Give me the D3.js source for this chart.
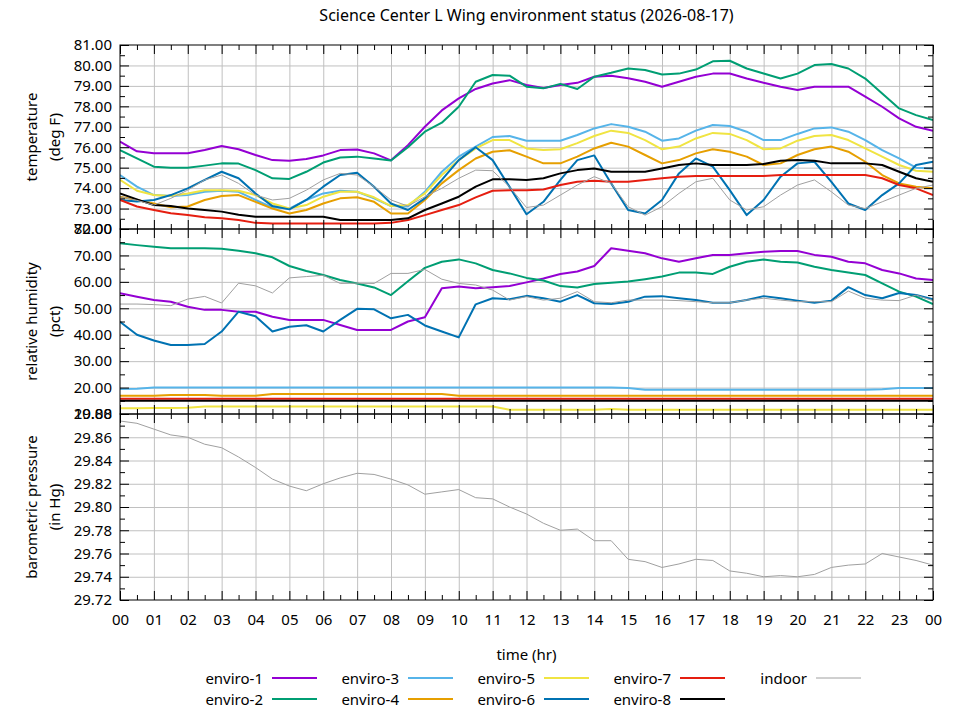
<!DOCTYPE html>
<html>
<head>
<meta charset="utf-8">
<script src="https://cdn.jsdelivr.net/npm/d3@7"></script>
<style>
  body { margin: 0; background: #fff; }
  text { font-family: "Noto Sans", sans-serif; fill: #000; }
</style>
</head>
<body>
<svg id="chart" width="960" height="720"></svg>
<script>
// half-hour sample times (hr)
const hours = [0, 0.5, 1, 1.5, 2, 2.5, 3, 3.5, 4, 4.5, 5, 5.5, 6, 6.5, 7, 7.5, 8, 8.5, 9, 9.5,
  10, 10.5, 11, 11.5, 12, 12.5, 13, 13.5, 14, 14.5, 15, 15.5, 16, 16.5, 17, 17.5, 18, 18.5, 19, 19.5,
  20, 20.5, 21, 21.5, 22, 22.5, 23, 23.5, 24]

// temperature (deg F)
const tempE1 = [76.27, 75.8, 75.7, 75.7, 75.7, 75.86, 76.06, 75.9, 75.62, 75.37, 75.34, 75.42, 75.6, 75.86, 75.89, 75.7, 75.36, 76.1, 77.0, 77.8,
  78.39, 78.85, 79.12, 79.28, 79.04, 78.9, 79.04, 79.15, 79.45, 79.5, 79.37, 79.2, 78.96, 79.2, 79.45, 79.6, 79.61, 79.36, 79.15, 78.96,
  78.8, 78.96, 78.96, 78.96, 78.47, 77.98, 77.41, 77.0, 76.8]
const tempE2 = [75.86, 75.45, 75.05, 75.0, 75.0, 75.1, 75.21, 75.2, 74.88, 74.48, 74.45, 74.8, 75.25, 75.5, 75.54, 75.45, 75.35, 76.0, 76.76, 77.2,
  77.98, 79.2, 79.53, 79.5, 78.96, 78.88, 79.1, 78.85, 79.45, 79.64, 79.85, 79.78, 79.56, 79.6, 79.8, 80.2, 80.23, 79.85, 79.61, 79.36,
  79.6, 80.02, 80.07, 79.85, 79.36, 78.63, 77.9, 77.57, 77.33]
const tempE3 = [74.64, 74.07, 73.66, 73.62, 73.66, 73.82, 73.87, 73.82, 73.42, 73.06, 73.0, 73.42, 73.74, 73.87, 73.82, 73.5, 73.12, 73.1, 73.82, 74.8,
  75.54, 76.03, 76.5, 76.55, 76.32, 76.32, 76.32, 76.6, 76.92, 77.13, 77.0, 76.76, 76.32, 76.43, 76.81, 77.09, 77.04, 76.76, 76.35, 76.35,
  76.65, 76.92, 76.97, 76.76, 76.35, 75.86, 75.45, 75.0, 74.96]
const tempE4 = [73.58, 73.42, 73.25, 73.06, 73.1, 73.42, 73.61, 73.66, 73.33, 73.0, 72.76, 72.93, 73.25, 73.5, 73.55, 73.33, 72.76, 72.76, 73.42, 74.23,
  74.88, 75.45, 75.78, 75.85, 75.54, 75.21, 75.21, 75.54, 75.94, 76.22, 76.03, 75.62, 75.21, 75.37, 75.7, 75.9, 75.78, 75.54, 75.13, 75.21,
  75.62, 75.9, 76.03, 75.78, 75.29, 74.64, 74.23, 74.07, 73.99]
const tempE5 = [74.4, 73.87, 73.66, 73.62, 73.74, 73.9, 73.9, 73.87, 73.66, 73.25, 73.0, 73.17, 73.58, 73.82, 73.82, 73.55, 73.12, 73.17, 73.74, 74.64,
  75.37, 75.94, 76.35, 76.35, 75.94, 75.86, 75.9, 76.2, 76.55, 76.81, 76.7, 76.35, 75.9, 76.03, 76.43, 76.7, 76.65, 76.35, 75.9, 75.94,
  76.32, 76.55, 76.6, 76.35, 75.94, 75.54, 75.13, 74.85, 74.8]
const tempE6 = [73.42, 73.35, 73.42, 73.66, 73.99, 74.4, 74.8, 74.48, 73.74, 73.12, 72.96, 73.42, 74.07, 74.64, 74.75, 74.07, 73.25, 72.93, 73.5, 74.4,
  75.37, 76.0, 75.37, 74.06, 72.72, 73.33, 74.4, 75.37, 75.6, 74.23, 72.93, 72.76, 73.42, 74.72, 75.45, 75.05, 73.9, 72.68, 73.42, 74.56,
  75.21, 75.29, 74.31, 73.25, 72.93, 73.66, 74.23, 75.13, 75.29]
const tempE7 = [73.42, 73.1, 72.93, 72.77, 72.68, 72.57, 72.52, 72.44, 72.3, 72.27, 72.27, 72.27, 72.27, 72.27, 72.27, 72.27, 72.3, 72.44, 72.68, 72.93,
  73.17, 73.55, 73.87, 73.9, 73.9, 73.93, 74.15, 74.31, 74.36, 74.31, 74.31, 74.4, 74.48, 74.56, 74.59, 74.59, 74.59, 74.59, 74.59, 74.64,
  74.64, 74.64, 74.64, 74.64, 74.64, 74.48, 74.15, 73.99, 73.66]
const tempE8 = [73.74, 73.45, 73.17, 73.12, 73.0, 72.93, 72.85, 72.7, 72.6, 72.6, 72.6, 72.6, 72.6, 72.44, 72.44, 72.44, 72.44, 72.52, 72.93, 73.25,
  73.58, 74.07, 74.43, 74.43, 74.4, 74.48, 74.72, 74.88, 74.96, 74.8, 74.8, 74.8, 74.96, 75.13, 75.21, 75.13, 75.13, 75.13, 75.18, 75.34,
  75.37, 75.34, 75.21, 75.21, 75.21, 75.13, 74.8, 74.48, 74.31]
const tempIndoor = [73.58, 73.4, 73.17, 73.5, 73.9, 74.4, 74.64, 74.23, 73.66, 73.42, 73.5, 73.9, 74.4, 74.72, 74.64, 74.07, 73.42, 73.12, 73.58, 73.99,
  74.48, 74.88, 74.85, 74.06, 73.05, 73.17, 73.66, 74.15, 74.56, 74.23, 73.09, 72.68, 73.09, 73.74, 74.31, 74.48, 73.42, 72.93, 73.09, 73.66,
  74.15, 74.4, 73.82, 73.17, 73.0, 73.33, 73.66, 73.99, 74.15]

// relative humidity (pct)
const humE1 = [55.7, 54.4, 53.1, 52.5, 50.6, 49.4, 49.4, 48.7, 48.7, 46.8, 45.6, 45.6, 45.6, 43.7, 41.8, 41.8, 41.8, 45.0, 46.6, 57.6,
  58.2, 57.6, 58.0, 58.4, 59.8, 61.3, 63.0, 63.9, 66.0, 72.7, 71.8, 70.8, 68.9, 67.6, 68.9, 70.2, 70.2, 70.8, 71.4, 71.7,
  71.7, 70.2, 69.5, 67.6, 67.0, 64.5, 63.2, 61.3, 60.7]
const humE2 = [74.6, 73.9, 73.3, 72.7, 72.7, 72.7, 72.5, 71.8, 70.8, 69.3, 66.0, 64.1, 62.6, 60.7, 59.4, 57.9, 55.0, 60.2, 65.3, 67.6,
  68.5, 67.0, 64.5, 63.2, 61.5, 60.5, 58.4, 57.9, 59.2, 59.7, 60.1, 61.0, 62.0, 63.5, 63.5, 63.0, 65.7, 67.6, 68.5, 67.6,
  67.3, 65.7, 64.5, 63.5, 62.6, 59.4, 56.3, 54.4, 51.6]
const humE3 = [19.5, 19.6, 20.0, 20.0, 20.0, 20.0, 20.0, 20.0, 20.0, 20.0, 20.0, 20.0, 20.0, 20.0, 20.0, 20.0, 20.0, 20.0, 20.0, 20.0,
  20.0, 20.0, 20.0, 20.0, 20.0, 20.0, 20.0, 20.0, 20.0, 20.0, 19.8, 19.2, 19.2, 19.2, 19.2, 19.2, 19.2, 19.2, 19.2, 19.2,
  19.2, 19.2, 19.2, 19.2, 19.2, 19.4, 19.8, 19.8, 19.8]
const humE4 = [16.9, 16.9, 16.9, 17.2, 17.2, 17.2, 16.9, 16.9, 16.9, 17.6, 17.6, 17.6, 17.6, 17.6, 17.6, 17.6, 17.6, 17.6, 17.6, 17.6,
  16.9, 16.9, 16.9, 16.9, 16.9, 16.9, 16.9, 16.9, 16.9, 16.9, 16.9, 16.9, 16.9, 16.9, 16.9, 16.9, 16.9, 16.9, 16.9, 16.9,
  16.9, 16.9, 16.9, 16.9, 16.9, 16.9, 16.9, 16.9, 16.9]
const humE5 = [12.2, 12.2, 12.3, 12.3, 12.4, 12.8, 12.8, 12.8, 12.8, 12.8, 12.8, 12.8, 12.8, 12.8, 12.8, 12.8, 12.8, 12.8, 12.8, 12.8,
  12.8, 12.8, 12.8, 11.6, 11.6, 11.6, 11.6, 11.6, 11.6, 11.9, 11.6, 11.6, 11.6, 11.6, 11.6, 11.6, 11.6, 11.6, 11.6, 11.6,
  11.6, 11.6, 11.6, 11.6, 11.6, 11.6, 11.6, 11.6, 11.6]
const humE6 = [44.9, 40.0, 37.8, 36.1, 36.1, 36.5, 41.2, 48.7, 47.0, 41.2, 43.0, 43.6, 41.2, 45.6, 49.8, 49.6, 46.2, 47.5, 43.5, 41.2,
  39.0, 51.5, 53.8, 53.4, 54.7, 53.8, 52.5, 55.0, 51.9, 51.6, 52.5, 54.4, 54.6, 53.8, 53.1, 52.1, 52.1, 53.1, 54.6, 53.8,
  52.9, 52.1, 52.9, 58.0, 55.0, 53.8, 55.8, 55.0, 53.4]
const humE7 = [15.8, 15.8, 15.8, 15.8, 15.8, 15.8, 15.8, 15.8, 15.8, 15.8, 15.8, 15.8, 15.8, 15.8, 15.8, 15.8, 15.8, 15.8, 15.8, 15.8,
  15.8, 15.8, 15.8, 15.8, 15.8, 15.8, 15.8, 15.8, 15.8, 15.8, 15.8, 15.8, 15.8, 15.8, 15.8, 15.8, 15.8, 15.8, 15.8, 15.8,
  15.8, 15.8, 15.8, 15.8, 15.8, 15.8, 15.8, 15.8, 15.8]
const humE8 = [15.0, 15.0, 15.0, 15.0, 15.0, 15.0, 15.0, 15.0, 15.0, 15.0, 15.0, 15.0, 15.0, 15.0, 15.0, 15.0, 15.0, 15.0, 15.0, 15.0,
  15.0, 15.0, 15.0, 15.0, 15.0, 15.0, 15.0, 15.0, 15.0, 15.0, 15.0, 15.0, 15.0, 15.0, 15.0, 15.0, 15.0, 15.0, 15.0, 15.0,
  15.0, 15.0, 15.0, 15.0, 15.0, 15.0, 15.0, 15.0, 15.0]
const humIndoor = [51.6, 51.6, 51.4, 51.0, 53.5, 54.5, 52.0, 59.5, 58.5, 55.8, 61.5, 62.0, 62.5, 59.4, 59.5, 59.4, 63.2, 63.2, 64.7, 61.0,
  59.4, 58.8, 56.9, 53.1, 54.4, 53.1, 53.8, 56.3, 52.5, 52.1, 53.1, 53.1, 53.1, 52.9, 52.5, 52.1, 52.1, 53.1, 53.8, 53.1,
  52.5, 52.5, 52.5, 56.5, 53.8, 53.1, 52.9, 55.0, 52.9]

// barometric pressure (in Hg), indoor sensor only
const pressIndoor = [29.874, 29.872, 29.867, 29.862, 29.860, 29.854, 29.851, 29.843, 29.834, 29.824, 29.818, 29.814, 29.820, 29.825, 29.829, 29.828, 29.824, 29.819, 29.811, 29.813,
  29.815, 29.808, 29.807, 29.800, 29.794, 29.786, 29.780, 29.781, 29.771, 29.771, 29.755, 29.753, 29.748, 29.751, 29.755, 29.754, 29.745, 29.743, 29.740, 29.741,
  29.740, 29.742, 29.748, 29.750, 29.751, 29.760, 29.757, 29.754, 29.750]

const seriesNames = ['enviro-1', 'enviro-2', 'enviro-3', 'enviro-4', 'enviro-5', 'enviro-6', 'enviro-7', 'enviro-8', 'indoor']
const seriesColors = ['#9400d3', '#009e73', '#56b4e9', '#e69f00', '#f0e442', '#0072b2', '#e51e10', '#000000', '#a0a0a0']

const hourTicks = [0, 1, 2, 3, 4, 5, 6, 7, 8, 9, 10, 11, 12, 13, 14, 15, 16, 17, 18, 19, 20, 21, 22, 23, 24]
const hourLabels = ['00', '01', '02', '03', '04', '05', '06', '07', '08', '09', '10', '11', '12',
  '13', '14', '15', '16', '17', '18', '19', '20', '21', '22', '23', '00']
const tempTicks = [72, 73, 74, 75, 76, 77, 78, 79, 80, 81]
const humTicks = [10, 20, 30, 40, 50, 60, 70, 80]
const pressTicks = [29.72, 29.74, 29.76, 29.78, 29.80, 29.82, 29.84, 29.86, 29.88]

const svg = d3.select('#chart')
const left = 120
const right = 933
const fontSize = 15

let x = d3.scaleLinear().domain([0, 24]).range([left, right])
let xMinor = d3.pairs(hourTicks).map((p) => (p[0] + p[1]) / 2)

let panels = [
  { top: 45, bottom: 229, ticks: tempTicks, label: ['temperature', '(deg F)'],
    series: [tempE1, tempE2, tempE3, tempE4, tempE5, tempE6, tempE7, tempE8, tempIndoor] },
  { top: 229, bottom: 414, ticks: humTicks, label: ['relative humidity', '(pct)'],
    series: [humE1, humE2, humE3, humE4, humE5, humE6, humE7, humE8, humIndoor] },
  { top: 414, bottom: 600, ticks: pressTicks, label: ['barometric pressure', '(in Hg)'],
    series: [null, null, null, null, null, null, null, null, pressIndoor] }
]

panels.forEach((p, pi) => {
  let y = d3.scaleLinear().domain(d3.extent(p.ticks)).range([p.bottom, p.top])
  let yMinor = d3.pairs(p.ticks).map((q) => (q[0] + q[1]) / 2)
  let h = p.bottom - p.top
  let g = svg.append('g')

  // grid
  g.append('g')
    .attr('transform', `translate(0, ${p.bottom})`)
    .call(d3.axisBottom(x).tickValues(hourTicks.slice(1, -1)).tickSize(-h).tickFormat(''))
    .call((s) => s.select('.domain').remove())
    .selectAll('line').attr('stroke', '#c0c0c0')
  g.append('g')
    .attr('transform', `translate(${left}, 0)`)
    .call(d3.axisLeft(y).tickValues(p.ticks.slice(1, -1)).tickSize(-(right - left)).tickFormat(''))
    .call((s) => s.select('.domain').remove())
    .selectAll('line').attr('stroke', '#c0c0c0')

  // data lines
  let clipId = 'clip' + pi
  svg.append('clipPath').attr('id', clipId)
    .append('rect').attr('x', left).attr('y', p.top).attr('width', right - left).attr('height', h)
  let line = d3.line().x((d) => x(d[0])).y((d) => y(d[1]))
  let lines = g.append('g').attr('clip-path', `url(#${clipId})`)
  p.series.forEach((vals, i) => {
    if (!vals) return
    lines.append('path')
      .datum(hours.map((t, k) => [t, vals[k]]))
      .attr('fill', 'none')
      .attr('stroke', seriesColors[i])
      .attr('stroke-width', i === 8 ? 1 : 2)
      .attr('stroke-linejoin', 'round')
      .attr('d', line)
  })

  // ticks, all pointing inward
  let tickAxes = [
    [d3.axisLeft(y), `translate(${left}, 0)`, p.ticks, yMinor],
    [d3.axisRight(y), `translate(${right}, 0)`, p.ticks, yMinor],
    [d3.axisTop(x), `translate(0, ${p.top})`, hourTicks, xMinor],
    [d3.axisBottom(x), `translate(0, ${p.bottom})`, hourTicks, xMinor]
  ]
  tickAxes.forEach(([ax, tr, major, minor]) => {
    g.append('g').attr('transform', tr)
      .call(ax.tickValues(major).tickSize(-9).tickFormat(''))
      .call((s) => s.select('.domain').remove())
    g.append('g').attr('transform', tr)
      .call(ax.tickValues(minor).tickSize(-5).tickFormat(''))
      .call((s) => s.select('.domain').remove())
  })

  // y labels
  g.append('g')
    .attr('transform', `translate(${left}, 0)`)
    .call(d3.axisLeft(y).tickValues(p.ticks).tickSize(0).tickPadding(8).tickFormat(d3.format('.2f')))
    .call((s) => s.select('.domain').remove())
    .selectAll('text')
    .attr('font-size', fontSize)
    .attr('font-family', '"Noto Sans", sans-serif')
    .attr('fill', '#000')

  // border
  g.append('rect')
    .attr('x', left).attr('y', p.top)
    .attr('width', right - left).attr('height', h)
    .attr('fill', 'none').attr('stroke', '#000').attr('stroke-width', 1)

  // axis title, two lines
  let cy = (p.top + p.bottom) / 2
  p.label.forEach((txt, li) => {
    g.append('text')
      .attr('transform', `translate(${31 + li * 23}, ${cy}) rotate(-90)`)
      .attr('text-anchor', 'middle')
      .attr('dominant-baseline', 'central')
      .attr('font-size', fontSize)
      .text(txt)
  })

  if (pi === panels.length - 1) {
    g.append('g')
      .attr('transform', `translate(0, ${p.bottom})`)
      .call(d3.axisBottom(x).tickValues(hourTicks).tickSize(0).tickPadding(14)
        .tickFormat((d, i) => hourLabels[i]))
      .call((s) => s.select('.domain').remove())
      .selectAll('text')
      .attr('font-size', fontSize)
      .attr('font-family', '"Noto Sans", sans-serif')
      .attr('fill', '#000')
  }
})

svg.append('text')
  .attr('x', (left + right) / 2).attr('y', 15)
  .attr('text-anchor', 'middle').attr('dominant-baseline', 'central')
  .attr('font-size', 16)
  .text('Science Center L Wing environment status (2026-08-17)')

svg.append('text')
  .attr('x', (left + right) / 2).attr('y', 654)
  .attr('text-anchor', 'middle').attr('dominant-baseline', 'central')
  .attr('font-size', fontSize)
  .text('time (hr)')

// legend: column-wise, two rows
let legend = svg.append('g')
seriesNames.forEach((name, i) => {
  let col = Math.floor(i / 2)
  let row = i % 2
  let tx = 263 + col * 136
  let ty = 678 + row * 21
  legend.append('text')
    .attr('x', tx).attr('y', ty)
    .attr('text-anchor', 'end').attr('dominant-baseline', 'central')
    .attr('font-size', fontSize)
    .text(name)
  legend.append('line')
    .attr('x1', tx + 9).attr('x2', tx + 54)
    .attr('y1', ty).attr('y2', ty)
    .attr('stroke', seriesColors[i])
    .attr('stroke-width', i === 8 ? 1 : 2)
})
</script>
</body>
</html>
